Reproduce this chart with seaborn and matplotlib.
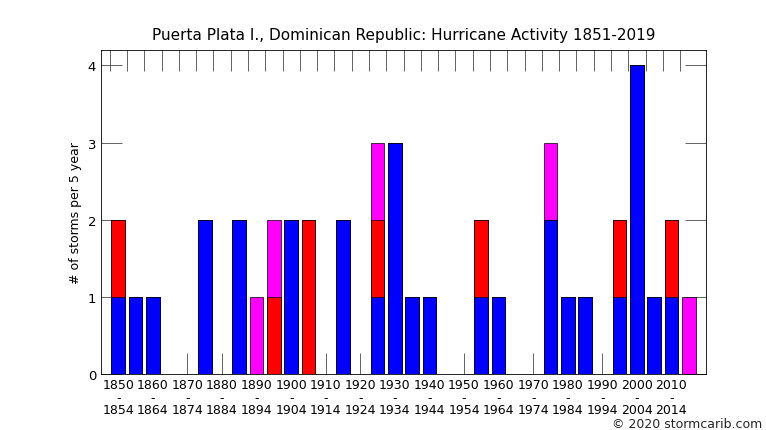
import numpy as np
import pandas as pd
import seaborn as sns
import matplotlib
matplotlib.use("Agg")
import matplotlib.pyplot as plt

starts = list(range(1850, 2020, 5))
blue    = [1,1,1,0,0,2,0,2,0,0,2,0,0,2,0,1,3,1,1,0,0,1,1,0,0,2,1,1,0,1,4,1,1,0]
red     = [1,0,0,0,0,0,0,0,0,1,0,2,0,0,0,1,0,0,0,0,0,1,0,0,0,0,0,0,0,1,0,0,1,0]
magenta = [0,0,0,0,0,0,0,0,1,1,0,0,0,0,0,1,0,0,0,0,0,0,0,0,0,1,0,0,0,0,0,0,0,1]

sns.set_style("white")
plt.rcParams['font.family'] = ['DejaVu Sans']
idx = np.arange(len(starts))
b = np.array(blue); r = np.array(red); m = np.array(magenta)
df = pd.DataFrame({"i": idx, "all": b + r + m, "br": b + r, "b": b})

fig = plt.figure(figsize=(7.66, 4.31), dpi=100)
ax = fig.add_axes([101/766, 56/431, 605/766, 324/431])
for col, c in [("all", "#ff00ff"), ("br", "#ff0000"), ("b", "#0000ff")]:
    sns.barplot(data=df, x="i", y=col, color=c, native_scale=True, width=0.8,
                edgecolor="black", linewidth=0.5, saturation=1, ax=ax)
ax.set_xlim(-1, 34)
ax.set_ylim(0, 4.2)
ax.set_yticks([0, 1, 2, 3, 4])
ax.set_xticks(idx[::2])
ax.set_xticklabels([f"{s}\n-\n{s+4}" for s in starts[::2]], fontsize=9, linespacing=0.95, color="black")
ax.set_xticks(idx - 0.5, minor=True)
ax.tick_params(axis="x", which="major", direction="in", length=15, top=False, bottom=True, width=0.5, pad=3)
ax.tick_params(axis="x", which="minor", direction="in", length=15, top=True, bottom=False, width=0.5)
ax.tick_params(axis="y", direction="in", length=15, left=True, right=True, width=0.5, labelsize=9.5, labelcolor="black")
for s in ax.spines.values():
    s.set_linewidth(0.6); s.set_color("black")
ax.set_xlabel("")
ax.set_ylabel("# of storms per 5 year", fontsize=9, color="black")
ax.set_title("Puerta Plata I., Dominican Republic: Hurricane Activity 1851-2019", fontsize=11, pad=8, color="black")
fig.text(762/766, 6/431, "© 2020 stormcarib.com", ha="right", va="center", fontsize=9)
fig.savefig("out.png", dpi=100)
